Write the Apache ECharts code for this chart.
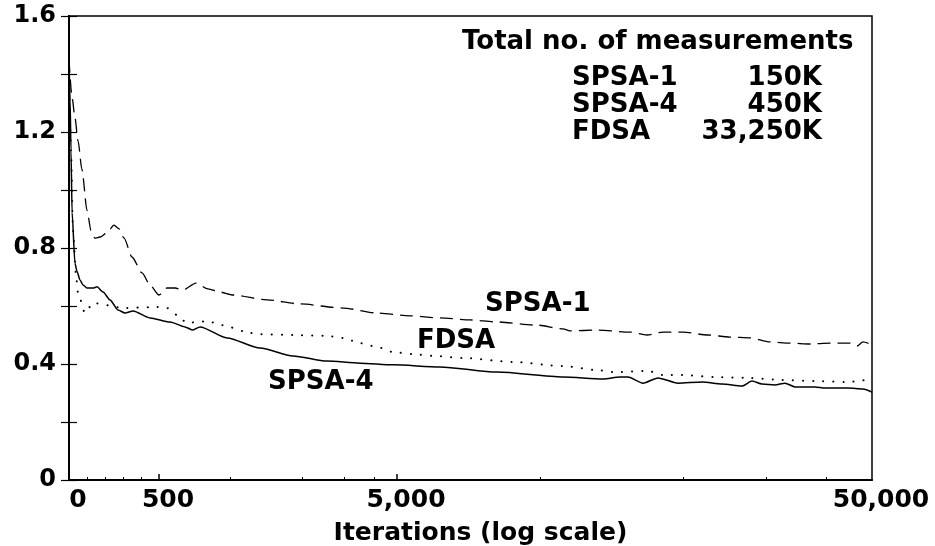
<!DOCTYPE html>
<html>
<head>
<meta charset="utf-8">
<script src="https://cdn.jsdelivr.net/npm/echarts@6/dist/echarts.min.js"></script>
<style>
html,body{margin:0;padding:0;background:#fff;}
#chart{width:935px;height:546px;}
</style>
</head>
<body>
<div id="chart"></div>
<script>
// ---- data (iterations, loss value) ----
const spsa1Iter = [0, 17, 33, 50, 72, 100, 122, 144, 172, 211, 250, 278, 306, 350, 406, 450, 500, 540, 584, 630, 715, 803, 902, 1023, 1421, 1956, 2966, 4121, 5326, 6158, 7118, 8121, 9857, 11182, 11567, 13183, 15468, 16800, 18155, 20000, 22580, 25120, 27679, 30490, 33600, 37026, 40791, 44945, 46495, 47871, 50000];
const spsa1Val  = [1.45, 1.32, 1.25, 1.17, 1.07, 0.93, 0.86, 0.834, 0.838, 0.852, 0.879, 0.866, 0.834, 0.769, 0.714, 0.672, 0.638, 0.662, 0.662, 0.655, 0.679, 0.659, 0.648, 0.638, 0.621, 0.607, 0.593, 0.576, 0.566, 0.559, 0.552, 0.545, 0.534, 0.521, 0.514, 0.517, 0.51, 0.5, 0.51, 0.51, 0.5, 0.493, 0.49, 0.476, 0.472, 0.469, 0.472, 0.472, 0.462, 0.476, 0.466];

const spsa4Iter = [0, 6, 11, 17, 33, 44, 61, 78, 100, 133, 156, 189, 228, 272, 311, 356, 450, 556, 643, 694, 744, 966, 1329, 1828, 2540, 3496, 4810, 6158, 8121, 11182, 13576, 14739, 15322, 16480, 17718, 19525, 21934, 24163, 26623, 27948, 29330, 31238, 32793, 34424, 37931, 39813, 44513, 47871, 50000];
const spsa4Val  = [1.45, 1.31, 1.138, 0.924, 0.748, 0.72, 0.69, 0.672, 0.662, 0.662, 0.666, 0.648, 0.621, 0.586, 0.576, 0.583, 0.559, 0.545, 0.528, 0.517, 0.528, 0.49, 0.455, 0.428, 0.41, 0.403, 0.397, 0.39, 0.372, 0.355, 0.348, 0.355, 0.355, 0.334, 0.352, 0.334, 0.338, 0.331, 0.324, 0.341, 0.331, 0.328, 0.334, 0.321, 0.321, 0.317, 0.317, 0.314, 0.303];

const fdsaIter = [0, 11, 22, 39, 50, 89, 133, 311, 489, 540, 595, 656, 722, 803, 885, 975, 1206, 1329, 1828, 2540, 2966, 3496, 4121, 4810, 5403, 5953, 6886, 8774, 11182, 13183, 14381, 16882, 18155, 19905, 23359, 27411, 32318, 37931, 44513, 49044, 50000];
const fdsaVal  = [1.45, 1.138, 0.862, 0.707, 0.645, 0.576, 0.61, 0.593, 0.597, 0.593, 0.569, 0.541, 0.545, 0.548, 0.538, 0.528, 0.507, 0.503, 0.5, 0.497, 0.49, 0.472, 0.459, 0.441, 0.434, 0.428, 0.421, 0.407, 0.393, 0.379, 0.372, 0.376, 0.362, 0.362, 0.355, 0.352, 0.345, 0.341, 0.338, 0.345, 0.341];

const xTickValues = [0, 500, 5000, 50000];
const xTickLabels = ['0', '500', '5,000', '50,000'];
const xMinorTicks = [100, 200, 300, 400, 1000, 2000, 3000, 4000, 10000, 20000, 30000, 40000];
const yTickLabels = ['0', '0.4', '0.8', '1.2', '1.6'];

const tableTitle = 'Total no. of measurements';
const tableNames = ['SPSA-1', 'SPSA-4', 'FDSA'];
const tableCounts = ['150K', '450K', '33,250K'];
const curveLabels = ['SPSA-1', 'FDSA', 'SPSA-4'];

// ---- axis scale of the original figure (piecewise: linear to 500, then log decades) ----
function xPos(it) {
  if (it <= 500) return 90 * it / 500;
  if (it <= 5000) return 90 + 238 * Math.log10(it / 500);
  return 328 + 475 * Math.log10(it / 5000);
}
const X_MAX = xPos(50000);
function pairs(xs, ys) { return xs.map((x, i) => [xPos(x), ys[i]]); }
function yLabel(v) {
  const k = Math.round(v / 0.2);
  return k % 2 === 0 ? yTickLabels[k / 2] : '';
}

const FONT = '"DejaVu Sans", "Liberation Sans", sans-serif';
const chart = echarts.init(document.getElementById('chart'), null, {renderer: 'canvas'});

const gLeft = 69, gTop = 16, gRight = 63, gBottom = 66;
const textFont = 'bold 26px "DejaVu Sans", sans-serif';

const option = {
  backgroundColor: '#fff',
  animation: false,
  grid: {left: gLeft, right: gRight, top: gTop, bottom: gBottom, show: true, borderColor: '#000', borderWidth: 1.5,
    backgroundColor: 'transparent', containLabel: false, outerBoundsMode: 'none'},
  xAxis: [{
    type: 'value', min: 0, max: X_MAX,
    axisLine: {show: true, lineStyle: {color: '#000', width: 2}},
    axisTick: {show: true, inside: true, length: 6, lineStyle: {color: '#000', width: 1.5},
      customValues: [xPos(500), xPos(5000)]},
    axisLabel: {show: true, customValues: xTickValues.map(xPos), margin: 8,
      color: '#000', fontFamily: FONT, fontWeight: 'bold', fontSize: 25, padding: [0, 0, 0, 18],
      formatter: function (v) {
        for (let i = 0; i < xTickValues.length; i++) if (Math.abs(xPos(xTickValues[i]) - v) < 1e-6) return xTickLabels[i];
        return '';
      }},
    splitLine: {show: false},
    name: 'Iterations (log scale)', nameLocation: 'middle', nameGap: 41,
    nameTextStyle: {color: '#000', fontFamily: FONT, fontWeight: 'bold', fontSize: 25, padding: [0, 0, 0, 20]}
  }, {
    type: 'value', min: 0, max: X_MAX, position: 'bottom',
    axisLine: {show: false},
    axisTick: {show: true, inside: true, length: 3, lineStyle: {color: '#000', width: 1}, customValues: xMinorTicks.map(xPos)},
    axisLabel: {show: false},
    splitLine: {show: false}
  }],
  yAxis: [{
    type: 'value', min: 0, max: 1.6, interval: 0.2, position: 'left',
    axisLine: {show: true, lineStyle: {color: '#000', width: 2}},
    axisTick: {show: true, inside: true, length: 8, lineStyle: {color: '#000', width: 1.2}},
    axisLabel: {color: '#000', fontFamily: FONT, fontWeight: 'bold', fontSize: 24, margin: 13, formatter: yLabel},
    splitLine: {show: false}
  }, {
    type: 'value', min: 0, max: 1.6, interval: 0.2, position: 'right',
    axisLine: {show: true, lineStyle: {color: '#000', width: 2}},
    axisTick: {show: true, inside: true, length: 8, lineStyle: {color: '#000', width: 1.2}},
    axisLabel: {show: false},
    splitLine: {show: false}
  }],
  series: [{
    name: 'SPSA-1', type: 'line', data: pairs(spsa1Iter, spsa1Val), showSymbol: false,
    smooth: 0.25, smoothMonotone: 'x',
    lineStyle: {color: '#000', width: 1.3, type: [13, 7]}
  }, {
    name: 'FDSA', type: 'line', data: pairs(fdsaIter, fdsaVal), showSymbol: false,
    smooth: 0.25, smoothMonotone: 'x',
    lineStyle: {color: '#000', width: 2, type: [0.1, 10], cap: 'round'}
  }, {
    name: 'SPSA-4', type: 'line', data: pairs(spsa4Iter, spsa4Val), showSymbol: false,
    smooth: 0.25, smoothMonotone: 'x',
    lineStyle: {color: '#000', width: 1.5}
  }],
  graphic: [
    {type: 'text', x: 462, y: 42, style: {text: tableTitle, font: textFont, fill: '#000', textAlign: 'left', textVerticalAlign: 'middle'}},
    {type: 'text', x: 572, y: 78, style: {text: tableNames[0], font: textFont, fill: '#000', textAlign: 'left', textVerticalAlign: 'middle'}},
    {type: 'text', x: 572, y: 105, style: {text: tableNames[1], font: textFont, fill: '#000', textAlign: 'left', textVerticalAlign: 'middle'}},
    {type: 'text', x: 572, y: 132, style: {text: tableNames[2], font: textFont, fill: '#000', textAlign: 'left', textVerticalAlign: 'middle'}},
    {type: 'text', x: 822, y: 78, style: {text: tableCounts[0], font: textFont, fill: '#000', textAlign: 'right', textVerticalAlign: 'middle'}},
    {type: 'text', x: 822, y: 105, style: {text: tableCounts[1], font: textFont, fill: '#000', textAlign: 'right', textVerticalAlign: 'middle'}},
    {type: 'text', x: 822, y: 132, style: {text: tableCounts[2], font: textFont, fill: '#000', textAlign: 'right', textVerticalAlign: 'middle'}},
    {type: 'text', x: 485, y: 304, style: {text: curveLabels[0], font: textFont, fill: '#000', textAlign: 'left', textVerticalAlign: 'middle'}},
    {type: 'text', x: 417, y: 341, style: {text: curveLabels[1], font: textFont, fill: '#000', textAlign: 'left', textVerticalAlign: 'middle'}},
    {type: 'text', x: 268, y: 382, style: {text: curveLabels[2], font: textFont, fill: '#000', textAlign: 'left', textVerticalAlign: 'middle'}}
  ]
};
chart.setOption(option);
</script>
</body>
</html>
